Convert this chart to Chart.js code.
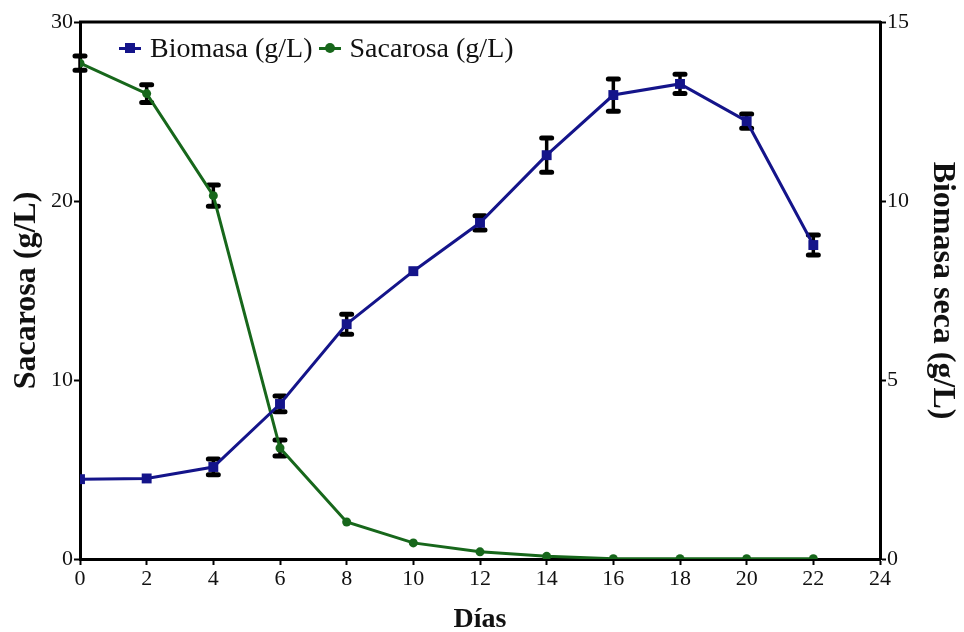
<!DOCTYPE html>
<html>
<head>
<meta charset="utf-8">
<script src="https://cdn.jsdelivr.net/npm/chart.js@4.4.1/dist/chart.umd.min.js"></script>
<style>
  html, body { margin: 0; padding: 0; background: #fff; }
  #wrap { position: relative; width: 964px; height: 632px; }
  #leyenda { position: absolute; left: 119px; top: 32px; font-family: "Liberation Serif", "Times New Roman", serif; font-size: 28px; color: #111; white-space: nowrap; }
  #leyenda .item { display: inline-block; margin-right: 6px; }
  #leyenda .marca { display: inline-block; position: relative; width: 22px; height: 3px; vertical-align: middle; margin-right: 9px; top: -2px; }
  #leyenda .punto { position: absolute; left: 6px; top: -4px; width: 10px; height: 10px; }
</style>
</head>
<body>
<div id="wrap"><canvas id="cultivo"></canvas><div id="leyenda"></div></div>
<script>
// dias de cultivo
var dias = [0, 2, 4, 6, 8, 10, 12, 14, 16, 18, 20, 22];
// biomasa seca (g/L), eje derecho
var biomasa    = [2.23, 2.25, 2.57, 4.33, 6.56, 8.04, 9.39, 11.28, 12.96, 13.27, 12.23, 8.77];
var biomasaErr = [0, 0, 0.22, 0.22, 0.28, 0, 0.2, 0.48, 0.45, 0.27, 0.2, 0.28];
// sacarosa (g/L), eje izquierdo
var sacarosa    = [27.7, 26.0, 20.3, 6.2, 2.07, 0.9, 0.4, 0.15, 0.02, 0.02, 0.02, 0.02];
var sacarosaErr = [0.4, 0.5, 0.6, 0.45, 0, 0, 0, 0, 0, 0, 0, 0];

var azul = '#14148a';
var verde = '#17671b';
var serif = '"Liberation Serif", "Times New Roman", serif';

function puntos(ys) {
  var out = [];
  for (var i = 0; i < dias.length; i++) {
    out.push({ x: dias[i], y: ys[i] });
  }
  return out;
}

// barras de error en negro, debajo de los marcadores
var barrasError = {
  id: 'barrasError',
  beforeDatasetsDraw: function (chart) {
    var ctx = chart.ctx;
    var xs = chart.scales.x;
    var sets = [
      { ys: chart.scales.yBio, v: biomasa, e: biomasaErr },
      { ys: chart.scales.ySac, v: sacarosa, e: sacarosaErr }
    ];
    ctx.save();
    ctx.strokeStyle = '#000';
    sets.forEach(function (s) {
      for (var i = 0; i < dias.length; i++) {
        if (!s.e[i]) continue;
        var px = xs.getPixelForValue(dias[i]);
        var top = s.ys.getPixelForValue(s.v[i] + s.e[i]);
        var bot = s.ys.getPixelForValue(s.v[i] - s.e[i]);
        ctx.lineWidth = 3.5;
        ctx.beginPath();
        ctx.moveTo(px, top);
        ctx.lineTo(px, bot);
        ctx.stroke();
        ctx.lineWidth = 5;
        ctx.lineCap = 'round';
        ctx.beginPath();
        ctx.moveTo(px - 5, top);
        ctx.lineTo(px + 5, top);
        ctx.moveTo(px - 5, bot);
        ctx.lineTo(px + 5, bot);
        ctx.stroke();
        ctx.lineCap = 'butt';
      }
    });
    ctx.restore();
  },
  afterDraw: function (chart) {
    // linea superior del marco
    var a = chart.chartArea;
    var ctx = chart.ctx;
    ctx.save();
    ctx.strokeStyle = '#000';
    ctx.lineWidth = 3;
    ctx.beginPath();
    ctx.moveTo(a.left - 1, a.top);
    ctx.lineTo(a.right + 1, a.top);
    ctx.stroke();
    ctx.restore();
  }
};

var ctx = document.getElementById('cultivo');
var chart = new Chart(ctx, {
  type: 'line',
  data: {
    datasets: [
      {
        label: 'Biomasa (g/L)',
        data: puntos(biomasa),
        yAxisID: 'yBio',
        borderColor: azul,
        backgroundColor: azul,
        borderWidth: 3,
        pointStyle: 'rect',
        pointRadius: 7,
        pointBorderWidth: 0,
        tension: 0
      },
      {
        label: 'Sacarosa (g/L)',
        data: puntos(sacarosa),
        yAxisID: 'ySac',
        borderColor: verde,
        backgroundColor: verde,
        borderWidth: 3,
        pointStyle: 'circle',
        pointRadius: 4.5,
        pointBorderWidth: 0,
        tension: 0
      }
    ]
  },
  options: {
    responsive: true,
    maintainAspectRatio: false,
    animation: false,
    layout: { padding: { top: 22, left: 0, right: 0, bottom: 0 } },
    plugins: {
      tooltip: { enabled: false },
      legend: { display: false }
    },
    scales: {
      x: {
        type: 'linear',
        min: 0,
        max: 24,
        ticks: { stepSize: 2, color: '#111', padding: 1, font: { family: serif, size: 22 } },
        grid: { drawOnChartArea: false, drawTicks: true, tickLength: 6, tickColor: '#000', tickWidth: 2 },
        border: { color: '#000', width: 3 },
        title: { display: true, text: 'Días', color: '#111', padding: { top: 10, bottom: -5 }, font: { family: serif, size: 28, weight: 'bold' } },
        afterFit: function (s) { s.height = 73; }
      },
      ySac: {
        position: 'left',
        min: 0,
        max: 30,
        ticks: { stepSize: 10, color: '#111', padding: 1, font: { family: serif, size: 22 } },
        grid: { drawOnChartArea: false, drawTicks: true, tickLength: 6, tickColor: '#000', tickWidth: 2 },
        border: { color: '#000', width: 3 },
        title: { display: true, text: 'Sacarosa (g/L)', color: '#111', padding: { top: 8, bottom: 4 }, font: { family: serif, size: 32, weight: 'bold' } },
        afterFit: function (s) { s.width = 80; }
      },
      yBio: {
        position: 'right',
        min: 0,
        max: 15,
        ticks: { stepSize: 5, color: '#111', padding: 1, font: { family: serif, size: 22 } },
        grid: { drawOnChartArea: false, drawTicks: true, tickLength: 6, tickColor: '#000', tickWidth: 2 },
        border: { color: '#000', width: 3 },
        title: { display: true, text: 'Biomasa seca (g/L)', color: '#111', padding: { top: 3 }, font: { family: serif, size: 32, weight: 'bold' } },
        afterFit: function (s) { s.width = 84; }
      }
    }
  },
  plugins: [barrasError]
});

// leyenda dentro del area del grafico
var ley = document.getElementById('leyenda');
chart.data.datasets.forEach(function (ds) {
  var item = document.createElement('span');
  item.className = 'item';
  var marca = document.createElement('span');
  marca.className = 'marca';
  marca.style.background = ds.borderColor;
  var punto = document.createElement('span');
  punto.className = 'punto';
  punto.style.background = ds.backgroundColor;
  if (ds.pointStyle === 'circle') punto.style.borderRadius = '50%';
  marca.appendChild(punto);
  item.appendChild(marca);
  item.appendChild(document.createTextNode(ds.label));
  ley.appendChild(item);
});
</script>
</body>
</html>
